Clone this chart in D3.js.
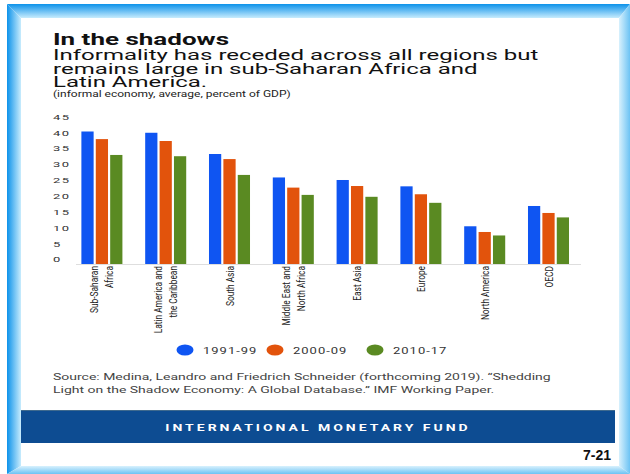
<!DOCTYPE html>
<html>
<head>
<meta charset="utf-8">
<script src="https://cdn.jsdelivr.net/npm/d3@7"></script>
<style>
  body { margin: 0; background: #fff; }
  text { font-family: Roboto, "Liberation Sans", Arial, sans-serif; }
</style>
</head>
<body>
<div id="chart"></div>
<script>
// data
const regions = [
    ["Sub-Saharan", "Africa"],
    ["Latin America and", "the Caribbean"],
    ["South Asia"],
    ["Middle East and", "North Africa"],
    ["East Asia"],
    ["Europe"],
    ["North America"],
    ["OECD"]
];
const periods = ["1991-99", "2000-09", "2010-17"];
const values1991 = [40.3, 39.9, 33.2, 25.8, 25.0, 23.0, 10.4, 16.8];
const values2000 = [37.9, 37.3, 31.6, 22.6, 23.1, 20.5, 8.6, 14.6];
const values2010 = [32.9, 32.5, 26.6, 20.3, 19.7, 17.8, 7.5, 13.2];
const yTicks = [0, 5, 10, 15, 20, 25, 30, 35, 40, 45];
const colors = ["#0f55f2", "#e2530c", "#5a8a22"];

const W = 630, H = 474;
const squash = 0.65; // the picture is squeezed vertically, text too

const svg = d3.select("#chart").append("svg")
    .attr("width", W)
    .attr("height", H);

// frame ------------------------------------------------------------
const defs = svg.append("defs");
function grad(id, x2, y2, c0, c1) {
    const g = defs.append("linearGradient").attr("id", id)
        .attr("x1", 0).attr("y1", 0).attr("x2", x2).attr("y2", y2);
    g.append("stop").attr("offset", "0%").attr("stop-color", c0);
    g.append("stop").attr("offset", "100%").attr("stop-color", c1);
}
grad("gTop", 0, 1, "#0c92ea", "#c8ecfd");
grad("gLeft", 1, 0, "#0c92ea", "#c8ecfd");
grad("gRight", 1, 0, "#d8f1fd", "#6cc3f4");
grad("gBottom", 0, 1, "#d8f1fd", "#6cc3f4");

const o = { l: 7, t: 4, r: 630, b: 474 };
const inn = { l: 21, t: 18, r: 619, b: 466 };
svg.append("path").attr("fill", "url(#gTop)")
    .attr("d", `M${o.l},${o.t}L${o.r},${o.t}L${inn.r},${inn.t}L${inn.l},${inn.t}Z`);
svg.append("path").attr("fill", "url(#gLeft)")
    .attr("d", `M${o.l},${o.t}L${inn.l},${inn.t}L${inn.l},${inn.b}L${o.l},${o.b}Z`);
svg.append("path").attr("fill", "url(#gRight)")
    .attr("d", `M${inn.r},${inn.t}L${o.r},${o.t}L${o.r},${o.b}L${inn.r},${inn.b}Z`);
svg.append("path").attr("fill", "url(#gBottom)")
    .attr("d", `M${inn.l},${inn.b}L${inn.r},${inn.b}L${o.r},${o.b}L${o.l},${o.b}Z`);

// squeezed horizontal text helper
function sText(x, y, str, size, opts = {}) {
    return svg.append("text")
        .attr("transform", `translate(${x},${y}) scale(1,${opts.sy || squash})`)
        .attr("text-anchor", opts.anchor || "start")
        .style("font-size", size + "px")
        .style("font-weight", opts.weight || 400)
        .style("letter-spacing", (opts.ls || 0) + "px")
        .attr("fill", opts.fill || "#111")
        .text(str);
}

// titles
sText(53, 45, "In the shadows", 26, { weight: 700, sy: 0.66 });
sText(53, 60, "Informality has receded across all regions but", 24, { sy: 0.6 });
sText(53, 74, "remains large in sub-Saharan Africa and", 24, { sy: 0.6 });
sText(53, 87, "Latin America.", 24, { sy: 0.6 });
sText(53, 97, "(informal economy, average, percent of GDP)", 12, { fill: "#222", sy: 0.68 });

// scales ------------------------------------------------------------
const baseY = 264;
const x0 = d3.scaleBand()
    .domain(d3.range(regions.length))
    .range([70, 580.4])
    .paddingInner(0.357)
    .paddingOuter(0.1785);
const x1 = d3.scaleBand()
    .domain(periods)
    .range([0, x0.bandwidth()])
    .paddingInner(0.15);
const y = d3.scaleLinear().domain([-1.5, 45]).range([baseY, 116.6]);

// y tick labels
yTicks.forEach(t => {
    sText(53, y(t) + 3.2, t, 13, { ls: 1.5, fill: "#333", sy: 0.62 });
});

// baseline
svg.append("line")
    .attr("x1", 76).attr("x2", 581)
    .attr("y1", baseY + 0.5).attr("y2", baseY + 0.5)
    .attr("stroke", "#dedede");

// bars
const series = [values1991, values2000, values2010];
const rows = regions.map((r, i) => periods.map((p, k) => ({ i, p, k, v: series[k][i] })));
svg.append("g").selectAll("g")
    .data(rows)
    .join("g")
    .attr("transform", (d, i) => `translate(${x0(i)},0)`)
    .selectAll("rect")
    .data(d => d)
    .join("rect")
    .attr("x", d => x1(d.p))
    .attr("width", x1.bandwidth())
    .attr("y", d => y(d.v))
    .attr("height", d => baseY - y(d.v))
    .attr("fill", d => colors[d.k]);

// category labels, rotated
const lineGap = 15;
regions.forEach((lines, i) => {
    const cx = x0(i) + x0.bandwidth() / 2;
    lines.forEach((ln, j) => {
        const lx = cx + (j - (lines.length - 1) / 2) * lineGap + 4;
        svg.append("text")
            .attr("transform", `translate(${lx},266) rotate(-90) scale(0.76,1)`)
            .attr("text-anchor", "end")
            .style("font-size", "11px")
            .attr("fill", "#222")
            .text(ln);
    });
});

// legend
const legendX = [185, 275, 375];
periods.forEach((p, k) => {
    svg.append("ellipse")
        .attr("cx", legendX[k]).attr("cy", 350)
        .attr("rx", 8.5).attr("ry", 5.5)
        .attr("fill", colors[k]);
    sText(legendX[k] + 18, 354, p, 13, { ls: 1, fill: "#333" });
});

// source note
sText(53, 380, "Source: Medina, Leandro and Friedrich Schneider (forthcoming 2019). \u201CShedding", 14, { fill: "#444", sy: 0.62 });
sText(53, 393, "Light on the Shadow Economy: A Global Database.\u201D IMF Working Paper.", 14, { fill: "#444", sy: 0.62 });

// IMF banner
svg.append("rect")
    .attr("x", 21).attr("y", 410)
    .attr("width", 594).attr("height", 33)
    .attr("fill", "#0d4c92");
svg.append("line")
    .attr("x1", 21).attr("x2", 615)
    .attr("y1", 410.5).attr("y2", 410.5)
    .attr("stroke", "#3f6a8e");
sText(318, 431, "INTERNATIONAL MONETARY FUND", 14, { weight: 700, ls: 3, fill: "#fff", anchor: "middle", sy: 0.6 });

// page number
svg.append("text")
    .attr("x", 611).attr("y", 460)
    .attr("text-anchor", "end")
    .style("font-family", "'Liberation Sans', Arial, sans-serif")
    .style("font-size", "14px")
    .style("font-weight", 700)
    .attr("fill", "#111")
    .text("7-21");
</script>
</body>
</html>
